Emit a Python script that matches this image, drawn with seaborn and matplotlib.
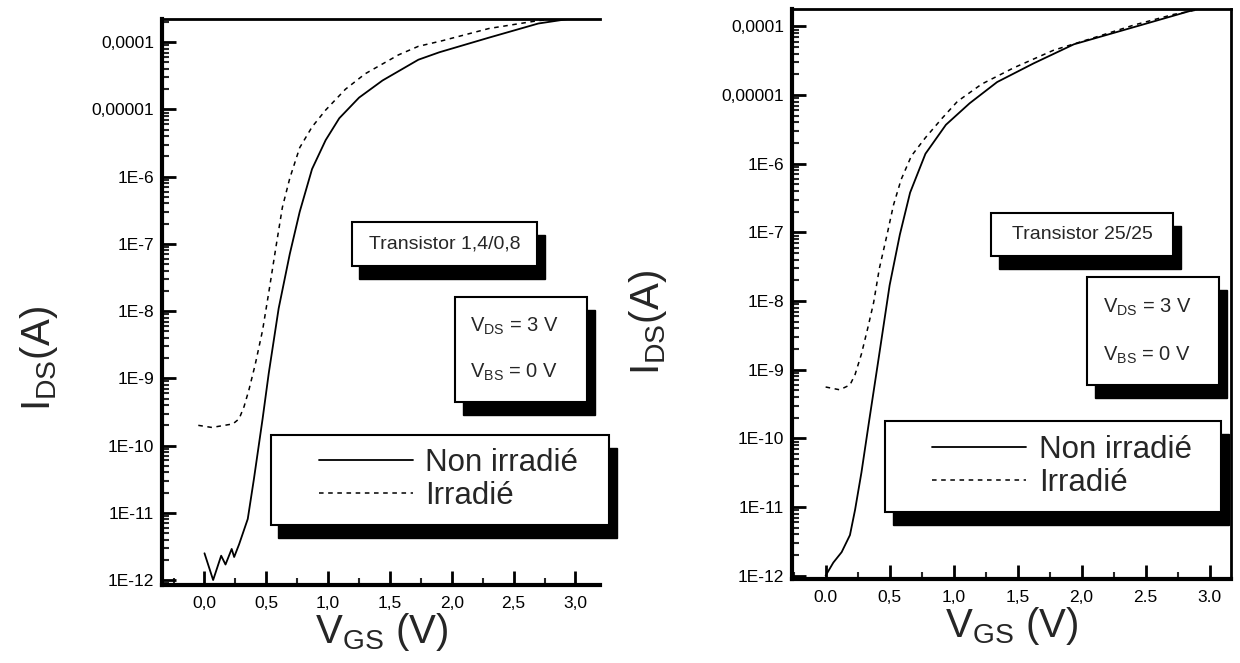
import matplotlib
matplotlib.use("Agg")
import matplotlib.pyplot as plt
import matplotlib.ticker as mticker
from matplotlib.patches import Rectangle
import numpy as np
import pandas as pd
import seaborn as sns

# ---- data (V_GS in volts, I_DS in amps) ----
left_solid_v = [0.0, 0.07, 0.135, 0.17, 0.22, 0.24, 0.28, 0.35, 0.40, 0.47, 0.52, 0.60,
                0.69, 0.77, 0.87, 0.98, 1.09, 1.25, 1.44, 1.73, 1.90, 2.30, 2.70, 3.0]
left_solid_i = [2.5e-12, 1.0e-12, 2.3e-12, 1.7e-12, 2.9e-12, 2.2e-12, 3.4e-12, 8.1e-12,
                3.2e-11, 2.5e-10, 1.2e-9, 1.1e-8, 7.1e-8, 3.0e-7, 1.3e-6, 3.5e-6, 7.4e-6,
                1.5e-5, 2.7e-5, 5.5e-5, 7.1e-5, 1.17e-4, 1.9e-4, 2.3e-4]
left_dot_v = [-0.05, 0.06, 0.23, 0.28, 0.32, 0.36, 0.41, 0.47, 0.52, 0.58, 0.63, 0.69,
              0.77, 0.87, 0.98, 1.14, 1.30, 1.57, 1.73, 1.92, 2.3, 2.7, 3.0]
left_dot_i = [2.0e-10, 1.86e-10, 2.1e-10, 2.5e-10, 3.8e-10, 6.8e-10, 1.6e-9, 5.2e-9,
              1.9e-8, 9.5e-8, 3.5e-7, 9.5e-7, 2.7e-6, 5.5e-6, 9.8e-6, 2.0e-5, 3.4e-5,
              6.5e-5, 8.7e-5, 1.05e-4, 1.6e-4, 2.1e-4, 2.3e-4]

right_solid_v = [0.0, 0.06, 0.125, 0.19, 0.23, 0.28, 0.34, 0.41, 0.50, 0.58, 0.66, 0.78,
                 0.94, 1.125, 1.34, 1.625, 1.94, 2.41, 2.875, 3.03]
right_solid_i = [1.0e-12, 1.55e-12, 2.2e-12, 3.9e-12, 9.1e-12, 3.2e-11, 1.8e-10, 1.3e-9,
                 1.7e-8, 9.3e-8, 3.8e-7, 1.4e-6, 3.7e-6, 7.6e-6, 1.55e-5, 2.9e-5, 5.5e-5,
                 9.8e-5, 1.74e-4, 2.0e-4]
right_dot_v = [0.0, 0.11, 0.19, 0.23, 0.28, 0.33, 0.375, 0.42, 0.48, 0.53, 0.59, 0.67,
               0.78, 0.91, 1.03, 1.22, 1.47, 1.78, 2.09, 2.41, 2.72, 2.94]
right_dot_i = [5.6e-10, 5.1e-10, 6.0e-10, 8.5e-10, 1.7e-9, 4.1e-9, 9.5e-9, 3.0e-8, 9.3e-8,
               2.5e-7, 5.9e-7, 1.3e-6, 2.4e-6, 4.6e-6, 8.1e-6, 1.45e-5, 2.5e-5, 4.5e-5,
               6.8e-5, 1.05e-4, 1.5e-4, 1.8e-4]

series_names = ["Non irradié", "Irradié"]
y_ticks = [1e-12, 1e-11, 1e-10, 1e-9, 1e-8, 1e-7, 1e-6, 1e-5, 1e-4]
y_ticklabels = ["1E-12", "1E-11", "1E-10", "1E-9", "1E-8", "1E-7", "1E-6", "0,00001", "0,0001"]
x_ticks = [0.0, 0.5, 1.0, 1.5, 2.0, 2.5, 3.0]
left_xticklabels = ["0,0", "0,5", "1,0", "1,5", "2,0", "2,5", "3,0"]
right_xticklabels = ["0.0", "0,5", "1,0", "1,5", "2,0", "2.5", "3.0"]
titles = ["Transistor 1,4/0,8", "Transistor 25/25"]

sns.set_theme(style="ticks")
plt.rcParams["font.family"] = ["Liberation Sans", "DejaVu Sans"]
plt.rcParams["mathtext.fontset"] = "custom"
plt.rcParams["mathtext.rm"] = "Liberation Sans"
plt.rcParams["mathtext.it"] = "Liberation Sans"

fig = plt.figure(figsize=(12.4, 6.63), dpi=100)
ax1 = fig.add_axes([0.131, 0.118, 0.353, 0.853])
ax2 = fig.add_axes([0.639, 0.127, 0.354, 0.859])


def make_df(v, i, name):
    return pd.DataFrame({"VGS": v, "IDS": i, "curve": name})


def box(ax, x0, y0, x1, y1, sh=0.018):
    # black drop shadow, then white box with black edge
    ax.add_patch(Rectangle((x0 + sh, y0 - sh * 1.3), x1 - x0, y1 - y0, transform=ax.transAxes,
                           facecolor="black", edgecolor="black", zorder=6, clip_on=False))
    ax.add_patch(Rectangle((x0, y0), x1 - x0, y1 - y0, transform=ax.transAxes,
                           facecolor="white", edgecolor="black", lw=1.5, zorder=7, clip_on=False))


def panel(ax, sv, si, dv, di, xlim, ylim, xlabels, title, tbox, vbox, lbox, ylab_pos):
    sns.lineplot(data=make_df(sv, si, series_names[0]), x="VGS", y="IDS", ax=ax,
                 color="black", lw=1.3, label=series_names[0], sort=False, estimator=None)
    sns.lineplot(data=make_df(dv, di, series_names[1]), x="VGS", y="IDS", ax=ax,
                 color="black", lw=1.1, label=series_names[1], sort=False, estimator=None)
    ax.lines[1].set_dashes([3, 3])
    ax.set_yscale("log")
    ax.set_xlim(*xlim)
    ax.set_ylim(*ylim)
    ax.set_yticks(y_ticks)
    ax.set_yticklabels(y_ticklabels)
    ax.yaxis.set_minor_locator(mticker.LogLocator(base=10, subs=np.arange(2, 10), numticks=50))
    ax.yaxis.set_minor_formatter(mticker.NullFormatter())
    ax.set_xticks(x_ticks)
    ax.set_xticklabels(xlabels)
    ax.xaxis.set_minor_locator(mticker.MultipleLocator(0.25))
    ax.tick_params(which="major", direction="in", length=10, width=2, labelsize=12.5,
                   colors="black", pad=8)
    ax.tick_params(which="minor", direction="in", length=5, width=1.5)
    ax.tick_params(axis="y", which="major", pad=6)
    for s in ["left", "bottom"]:
        ax.spines[s].set_linewidth(3)
    for s in ["top", "right"]:
        ax.spines[s].set_linewidth(2)
    for s in ax.spines.values():
        s.set_color("black")
    ax.set_xlabel(r"V$\mathregular{_{GS}}$ (V)", fontsize=29, labelpad=0)
    ax.set_ylabel(r"I$\mathregular{_{DS}}$(A)", fontsize=29, labelpad=4)
    ax.yaxis.set_label_coords(*ylab_pos)

    box(ax, *tbox)
    ax.text((tbox[0] + tbox[2]) / 2, (tbox[1] + tbox[3]) / 2, title, transform=ax.transAxes,
            ha="center", va="center", fontsize=14, zorder=8)
    box(ax, *vbox)
    vx = vbox[0] + 0.035
    ax.text(vx, vbox[1] + (vbox[3] - vbox[1]) * 0.72, r"V$\mathregular{_{DS}}$ = 3 V",
            transform=ax.transAxes, ha="left", va="center", fontsize=14.5, zorder=8)
    ax.text(vx, vbox[1] + (vbox[3] - vbox[1]) * 0.28, r"V$\mathregular{_{BS}}$ = 0 V",
            transform=ax.transAxes, ha="left", va="center", fontsize=14.5, zorder=8)
    box(ax, *lbox)
    leg = ax.legend(loc="center", bbox_to_anchor=((lbox[0] + lbox[2]) / 2 + 0.02,
                                                  (lbox[1] + lbox[3]) / 2),
                    frameon=False, fontsize=22.5, handlelength=3.0, handletextpad=0.4,
                    labelspacing=0.1)
    leg.set_zorder(9)


panel(ax1, left_solid_v, left_solid_i, left_dot_v, left_dot_i, (-0.34, 3.2), (8.5e-13, 2.2e-4),
      left_xticklabels, titles[0],
      (0.432, 0.564, 0.856, 0.641), (0.668, 0.323, 0.97, 0.509), (0.247, 0.106, 1.02, 0.265),
      (-0.235, 0.40))
panel(ax2, right_solid_v, right_solid_i, right_dot_v, right_dot_i, (-0.26, 3.17), (9e-13, 1.78e-4),
      right_xticklabels, titles[1],
      (0.453, 0.567, 0.868, 0.642), (0.672, 0.340, 0.973, 0.530), (0.212, 0.118, 0.977, 0.277),
      (-0.28, 0.45))

# the scanned left panel shows no right-hand frame line
ax1.spines["right"].set_visible(False)

fig.savefig("out.png", dpi=100)
